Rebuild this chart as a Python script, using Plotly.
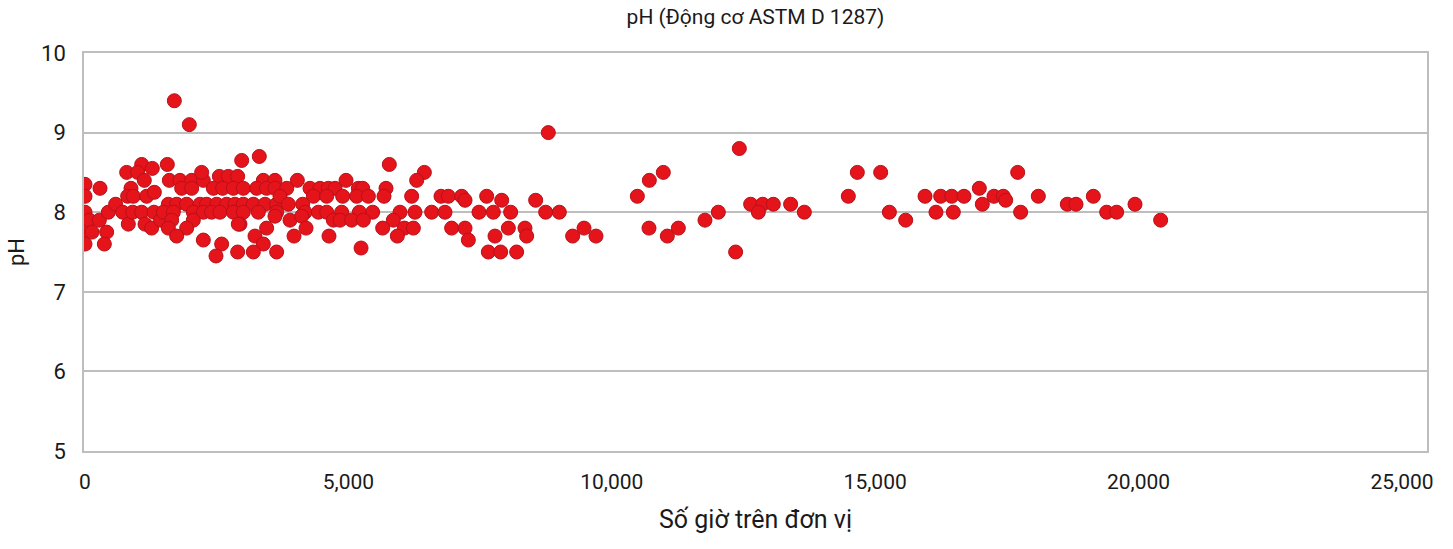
import plotly.graph_objects as go

# Hours per unit (x) and pH (y)
hours = [
    1696, 1980,
    0, 0, 0, 0, 0,
    82, 133, 285, 272, 411, 367, 443, 582, 715, 791, 822, 873, 810, 917, 905,
    1076, 999, 1126, 1278, 1170, 1316, 1076, 1139, 1265, 1310, 1436, 1563,
    1601, 1803, 2025, 2246, 2214, 2550, 2721, 2898, 3385, 3606,
    1835, 2025, 2436, 2613, 2815, 3005, 3258, 3448, 3606,
    1582, 1740, 1930, 2183, 2309, 2499, 2689, 2847, 3005, 3195, 3417, 3638,
    1487, 1677, 2056, 2246, 2404, 2562, 2815, 3005, 3290, 3638,
    1645, 2056, 2942, 3606,
    1582, 1930, 2910, 3448,
    1740, 3227,
    2246, 2594, 3385,
    2487, 2898, 3195, 3638,
    2974, 3309,
    8795, 5777, 6442, 6296, 4031, 4955, 5714, 5676,
    3829, 4271, 4461, 4619, 4746, 5189, 5271,
    3702, 4335, 4588, 4891, 5157, 5379, 6201, 6758, 6897, 7150, 7625, 7910, 8555, 7214,
    3860, 4132,
    4177, 4430, 4588, 4872, 5208, 5461, 5980, 6264, 6581, 6834, 7479, 7751, 8080, 8745, 9004,
    3892, 4113, 4714, 4841, 5062, 5284, 5853,
    4196, 5651, 6062, 6233, 6960, 7214, 8036, 8352,
    3968, 4632, 5929, 7277, 7783, 8384, 9257,
    5240, 7656, 7891, 8194,
    9473, 9700, 10485, 10713, 10978, 10706, 11054, 11263, 11769, 12022, 12421, 12351,
    12636, 12864, 12782, 13066, 13395, 13655,
    14490, 14661, 15104, 15269, 15579, 15946, 16154, 16243, 16452, 16483, 16686, 16977,
    17034, 17255, 17432, 17477, 17705, 17761, 18097, 18647, 18812, 19141, 19394, 19584,
    19932, 20419,
]

ph = [
    9.4, 9.1,
    8.35, 8.2, 8.0, 7.75, 7.6,
    7.9, 7.75, 8.3, 7.9, 7.75, 7.6, 8.0, 8.1, 8.0, 8.5, 7.85, 8.3, 8.2, 8.2, 8.0,
    8.6, 8.5, 8.4, 8.55, 8.2, 8.25, 8.0, 7.85, 7.8, 8.0, 7.9, 8.6,
    8.4, 8.4, 8.4, 8.4, 8.5, 8.45, 8.45, 8.45, 8.4, 8.4,
    8.3, 8.3, 8.3, 8.3, 8.3, 8.3, 8.3, 8.3, 8.3,
    8.1, 8.1, 8.1, 8.1, 8.1, 8.1, 8.1, 8.1, 8.1, 8.1, 8.1, 8.1,
    8.0, 8.0, 8.0, 8.0, 8.0, 8.0, 8.0, 8.0, 8.0, 8.0,
    7.9, 7.9, 7.85, 7.95,
    7.8, 7.8, 7.85, 7.8,
    7.7, 7.7,
    7.65, 7.6, 7.6,
    7.45, 7.5, 7.5, 7.5,
    8.65, 8.7,
    9.0, 8.6, 8.5, 8.4, 8.4, 8.4, 8.3, 8.2,
    8.3, 8.3, 8.3, 8.3, 8.3, 8.3, 8.3,
    8.2, 8.2, 8.2, 8.2, 8.2, 8.2, 8.2, 8.2, 8.2, 8.2, 8.2, 8.15, 8.15, 8.15,
    8.1, 8.1,
    8.0, 8.0, 8.0, 8.0, 8.0, 8.0, 8.0, 8.0, 8.0, 8.0, 8.0, 8.0, 8.0, 8.0, 8.0,
    7.9, 7.95, 7.9, 7.9, 7.9, 7.9, 7.9,
    7.8, 7.8, 7.8, 7.8, 7.8, 7.8, 7.8, 7.8,
    7.7, 7.7, 7.7, 7.65, 7.7, 7.7, 7.7,
    7.55, 7.5, 7.5, 7.5,
    7.8, 7.7, 8.2, 8.4, 8.5, 7.8, 7.7, 7.8, 7.9, 8.0, 8.8, 7.5,
    8.1, 8.1, 8.0, 8.1, 8.1, 8.0,
    8.2, 8.5, 8.5, 8.0, 7.9, 8.2, 8.0, 8.2, 8.2, 8.0, 8.2, 8.3,
    8.1, 8.2, 8.2, 8.15, 8.5, 8.0, 8.2, 8.1, 8.1, 8.2, 8.0, 8.0,
    8.1, 7.9,
]

x_ticks = [0, 5000, 10000, 15000, 20000, 25000]
y_ticks = [5, 6, 7, 8, 9, 10]

FONT = "Liberation Sans Narrow, Arial Narrow, Roboto, sans-serif"
GRID = "#BEBEBE"
TEXT = "#1a1a1a"

fig = go.Figure(
    go.Scatter(
        x=hours,
        y=ph,
        mode="markers",
        marker=dict(size=14, color="#E5141B", line=dict(color="#B8101A", width=1)),
        showlegend=False,
    )
)

fig.update_layout(
    width=1453,
    height=549,
    margin=dict(l=84, r=26, t=53, b=98, autoexpand=False),
    paper_bgcolor="white",
    plot_bgcolor="white",
    font=dict(family=FONT, color=TEXT),
    title=dict(
        text="pH (Động cơ ASTM D 1287)",
        x=0.5,
        xref="paper",
        xanchor="center",
        y=0.97,
        yref="container",
        yanchor="middle",
        font=dict(size=21, family=FONT, color=TEXT),
    ),
)

fig.update_xaxes(
    range=[-19, 25475],
    tickvals=x_ticks,
    tickformat=",",
    showgrid=False,
    zeroline=False,
    showline=True,
    linecolor=GRID,
    linewidth=1.5,
    mirror=True,
    ticks="",
    automargin=False,
    ticklabelstandoff=11,
    tickfont=dict(size=21, family=FONT, color=TEXT),
    title=dict(text="Số giờ trên đơn vị", font=dict(size=25, family=FONT, color=TEXT), standoff=18),
)

fig.update_yaxes(
    range=[5, 10],
    tickvals=y_ticks,
    showgrid=True,
    gridcolor=GRID,
    gridwidth=1.5,
    zeroline=False,
    showline=True,
    linecolor=GRID,
    linewidth=1.5,
    mirror=True,
    ticks="",
    automargin=False,
    ticklabelstandoff=12,
    tickfont=dict(size=22, family=FONT, color=TEXT),
    title=dict(text="pH", font=dict(size=22, family=FONT, color=TEXT), standoff=10),
)

fig.write_html(
    "out.html",
    config={"displayModeBar": False},
    post_script="document.body.style.margin = '0';",
)
